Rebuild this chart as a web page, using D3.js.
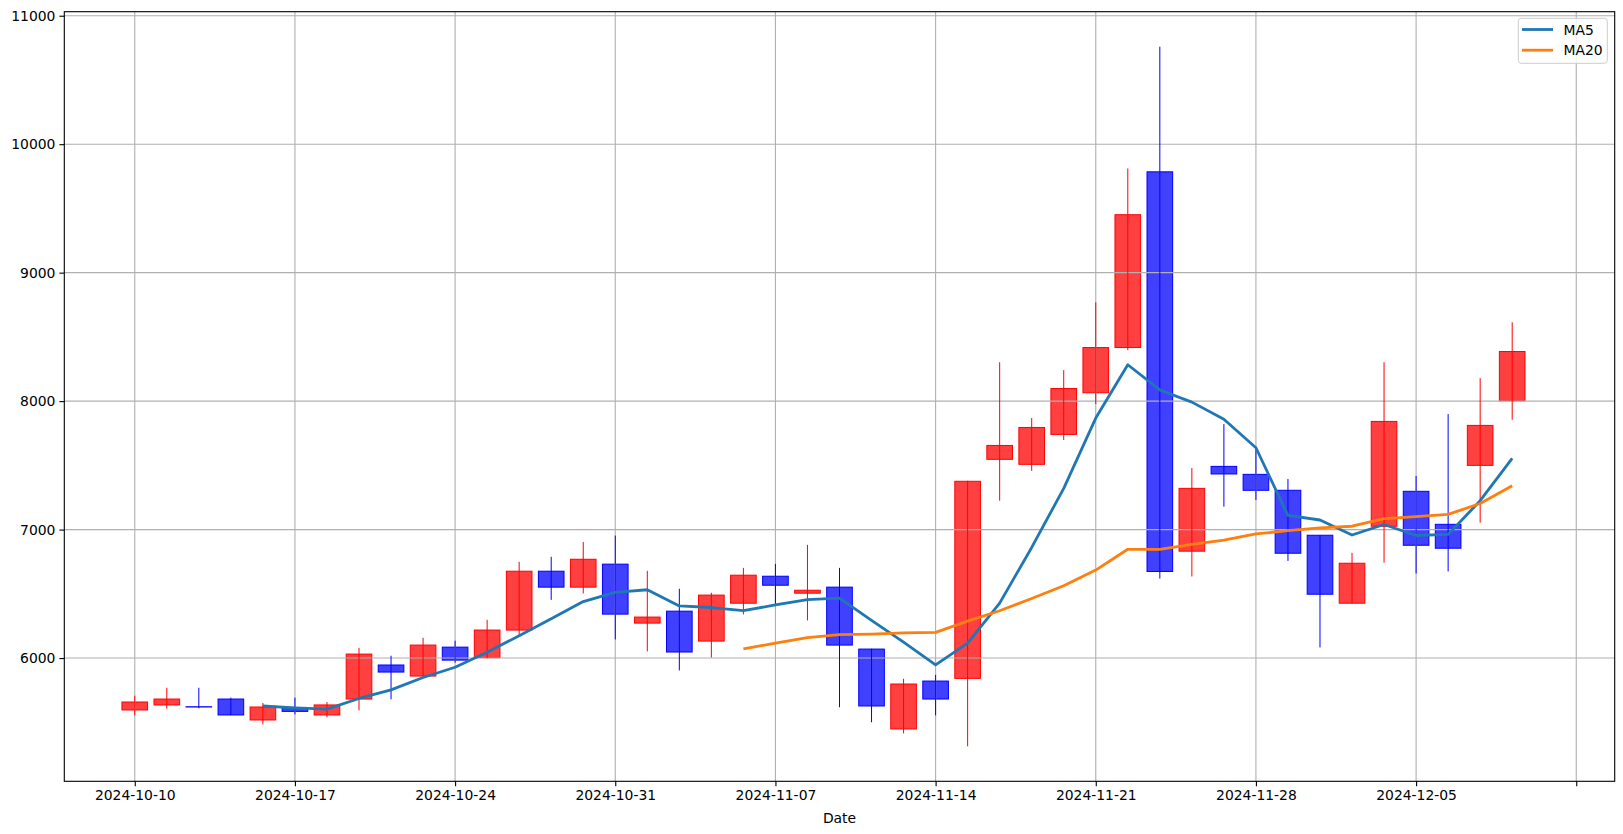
<!DOCTYPE html>
<html><head><meta charset="utf-8">
<script src="https://cdn.jsdelivr.net/npm/d3@7"></script>
<style>
html,body{margin:0;padding:0;background:#fff;}
svg{display:block;font-family:"DejaVu Sans",sans-serif;}
</style></head><body>
<svg id="chart" width="1623" height="834"></svg>
<script>
// ---- data ----
const dates = ["2024-10-10","2024-10-11","2024-10-14","2024-10-15","2024-10-16","2024-10-17","2024-10-18",
  "2024-10-21","2024-10-22","2024-10-23","2024-10-24","2024-10-25","2024-10-28","2024-10-29","2024-10-30",
  "2024-10-31","2024-11-01","2024-11-04","2024-11-05","2024-11-06","2024-11-07","2024-11-08","2024-11-11",
  "2024-11-12","2024-11-13","2024-11-14","2024-11-15","2024-11-18","2024-11-19","2024-11-20","2024-11-21",
  "2024-11-22","2024-11-25","2024-11-26","2024-11-27","2024-11-28","2024-11-29","2024-12-02","2024-12-03",
  "2024-12-04","2024-12-05","2024-12-06","2024-12-09","2024-12-10"];
const openP  = [5596,5635,5621,5681,5518,5614,5557,5681,5946,5860,6085,6003,6218,6676,6552,6731,6272,6365,6132,6427,
  6637,6505,6552,6070,5448,5821,5842,7547,7508,7741,8065,8417,9785,6832,7492,7430,7306,6956,6427,7026,7298,7041,7500,8003];
const highP  = [5707,5769,5769,5692,5650,5692,5658,6080,6018,6158,6135,6298,6749,6788,6904,6953,6679,6539,6508,6702,
  6733,6881,6702,6072,5839,5868,7380,8303,7868,8241,8769,9811,10759,7479,7821,7627,7394,6958,6819,8303,7417,7899,8179,8614];
const lowP   = [5554,5606,5609,5557,5484,5562,5539,5593,5679,5858,5964,6000,6179,6453,6503,6145,6052,5904,6005,6339,
  6422,6293,5617,5500,5414,5554,5313,7225,7457,7697,7977,8396,6619,6635,7179,7231,6756,6083,6425,6743,6658,6674,7054,7855];
const closeP = [5658,5681,5619,5557,5619,5585,5635,6031,5891,6101,5984,6218,6676,6552,6769,6342,6319,6047,6490,6645,
  6567,6528,6101,5627,5798,5681,7376,7655,7795,8098,8417,9451,6674,7321,7433,7306,6816,6497,6738,7842,6878,6855,7811,8386];
const xTickIndex = [0,5,10,15,20,25,30,35,40,45];
const yTicks = [6000,7000,8000,9000,10000,11000];
const maWindows = [5,20];
const maLabels = ["MA5","MA20"];
const maColors = ["#1f77b4","#ff7f0e"];

// ---- layout ----
const W = 1623, H = 834;
const L = 64.3, R = 1614.7, T = 11.7, B = 781.3;
const svg = d3.select("#chart");

const n = dates.length;
const idx = d3.range(n);
const x = d3.scaleLinear().domain([-2.2, 46.2]).range([L, R]);
const lo = d3.min(lowP), hi = d3.max(highP), pad = (hi - lo) * 0.05;
const y = d3.scaleLinear().domain([lo - pad, hi + pad]).range([B, T]);

const up = i => closeP[i] >= openP[i];
const upCol = "red", dnCol = "blue";

const clipId = "plotclip";
svg.append("defs").append("clipPath").attr("id", clipId)
  .append("rect").attr("x", L).attr("y", T).attr("width", R - L).attr("height", B - T);

const plot = svg.append("g").attr("clip-path", `url(#${clipId})`);

// candle bodies (patches, below grid)
const bw = 0.8;
plot.append("g").selectAll("rect").data(idx).join("rect")
  .attr("x", i => x(i - bw / 2))
  .attr("width", i => x(i + bw / 2) - x(i - bw / 2))
  .attr("y", i => y(Math.max(openP[i], closeP[i])))
  .attr("height", i => Math.abs(y(openP[i]) - y(closeP[i])))
  .attr("fill", i => up(i) ? upCol : dnCol)
  .attr("fill-opacity", 0.75)
  .attr("stroke", i => up(i) ? upCol : dnCol)
  .attr("stroke-width", 1);

// grid
const grid = plot.append("g").attr("stroke", "#b0b0b0").attr("stroke-width", 1.1);
grid.selectAll("line.gx").data(xTickIndex).join("line").attr("class", "gx")
  .attr("x1", d => x(d)).attr("x2", d => x(d)).attr("y1", T).attr("y2", B);
grid.selectAll("line.gy").data(yTicks).join("line").attr("class", "gy")
  .attr("x1", L).attr("x2", R).attr("y1", d => y(d)).attr("y2", d => y(d));

// wicks
plot.append("g").selectAll("line").data(idx).join("line")
  .attr("x1", i => x(i)).attr("x2", i => x(i))
  .attr("y1", i => y(highP[i])).attr("y2", i => y(lowP[i]))
  .attr("stroke", i => up(i) ? upCol : dnCol)
  .attr("stroke-width", 1);

// moving averages
maWindows.forEach((w, k) => {
  const pts = [];
  for (let i = w - 1; i < n; i++) pts.push([i, d3.mean(closeP.slice(i - w + 1, i + 1))]);
  plot.append("path").datum(pts)
    .attr("fill", "none").attr("stroke", maColors[k]).attr("stroke-width", 2.8)
    .attr("stroke-linejoin", "round")
    .attr("d", d3.line().x(d => x(d[0])).y(d => y(d[1])));
});

// axes
const fmtX = i => (i >= 0 && i < n) ? dates[i] : "";
const xAxis = d3.axisBottom(x).tickValues(xTickIndex).tickFormat(fmtX).tickSize(4.9).tickPadding(4);
const yAxis = d3.axisLeft(y).tickValues(yTicks).tickFormat(d3.format("d")).tickSize(4.9).tickPadding(4);

const gx = svg.append("g").attr("transform", `translate(0,${B})`).call(xAxis);
const gy = svg.append("g").attr("transform", `translate(${L},0)`).call(yAxis);
[gx, gy].forEach(g => {
  g.select(".domain").remove();
  g.selectAll(".tick line").attr("stroke", "#000").attr("stroke-width", 1.1);
  g.selectAll(".tick text").attr("fill", "#000").style("font-size", "13.9px")
    .style("font-family", "'DejaVu Sans', sans-serif");
});

// spines
svg.append("rect").attr("x", L).attr("y", T).attr("width", R - L).attr("height", B - T)
  .attr("fill", "none").attr("stroke", "#000").attr("stroke-width", 1.1);

// x label
svg.append("text").attr("x", (L + R) / 2).attr("y", 823).attr("text-anchor", "middle")
  .style("font-size", "13.9px").attr("fill", "#000").text("Date");

// legend
const lg = svg.append("g");
lg.append("rect").attr("x", 1518.3).attr("y", 18.3).attr("width", 89).attr("height", 45)
  .attr("rx", 3).attr("fill", "#fff").attr("fill-opacity", 0.8)
  .attr("stroke", "#cccccc").attr("stroke-width", 1);
maLabels.forEach((lab, k) => {
  const yy = 29.5 + k * 20.7;
  lg.append("line").attr("x1", 1522).attr("x2", 1553).attr("y1", yy).attr("y2", yy)
    .attr("stroke", maColors[k]).attr("stroke-width", 2.8);
  lg.append("text").attr("x", 1563.5).attr("y", yy).attr("dy", "0.36em")
    .style("font-size", "13.9px").attr("fill", "#000").text(lab);
});
</script>
</body></html>
